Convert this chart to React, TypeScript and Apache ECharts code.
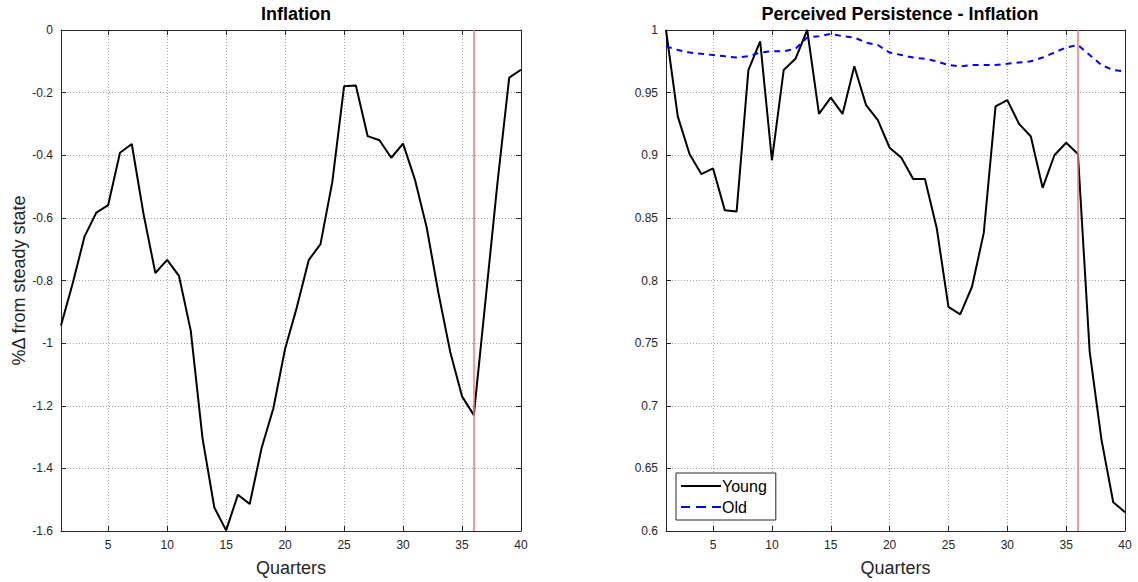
import React, { useEffect, useRef } from "react";
import * as echarts from "echarts";

const quarters = [1,2,3,4,5,6,7,8,9,10,11,12,13,14,15,16,17,18,19,20,21,22,23,24,25,26,27,28,29,30,31,32,33,34,35,36,37,38,39,40];
const xTicks = [5,10,15,20,25,30,35,40];

const inflation = [-0.944,-0.808,-0.659,-0.583,-0.559,-0.392,-0.364,-0.588,-0.776,-0.734,-0.785,-0.96,-1.304,-1.525,-1.598,-1.484,-1.514,-1.336,-1.209,-1.018,-0.885,-0.735,-0.684,-0.486,-0.18,-0.177,-0.339,-0.352,-0.408,-0.363,-0.477,-0.63,-0.84,-1.028,-1.17,-1.23,-0.86,-0.49,-0.152,-0.127];

const young = [1.0,0.931,0.901,0.885,0.8895,0.856,0.855,0.968,0.991,0.896,0.968,0.977,1.0,0.933,0.946,0.933,0.971,0.94,0.928,0.906,0.898,0.881,0.881,0.842,0.779,0.773,0.795,0.838,0.939,0.944,0.925,0.915,0.874,0.9,0.91,0.901,0.743,0.673,0.623,0.615];

const old = [0.987,0.984,0.982,0.981,0.98,0.979,0.978,0.979,0.982,0.983,0.983,0.985,0.994,0.995,0.997,0.995,0.994,0.99,0.988,0.982,0.98,0.978,0.977,0.975,0.972,0.971,0.972,0.972,0.972,0.973,0.974,0.975,0.978,0.982,0.986,0.988,0.98,0.972,0.968,0.967];

const eventQuarter = 36;
const titles = ["Inflation", "Perceived Persistence - Inflation"];
const xName = "Quarters";
const yNameLeft = "%\u0394 from steady state";
const legendNames = ["Young", "Old"];

const FONT = "'Liberation Sans', Arial, Helvetica, sans-serif";
const AX = "#262626";

const SOLID_ICON = "path://M0,0H40V2H0Z";
const DASH_ICON = "path://M0,0H9V2H0Z M15,0H25V2H15Z M31,0H40V2H31Z";

export default function App() {
  const ref = useRef<HTMLDivElement>(null);
  useEffect(() => {
    if (!ref.current) return;
    const chart = echarts.init(ref.current, null, { renderer: "svg" });

    const grids = [
      { left: 61, top: 30, width: 460, height: 503 },
      { left: 666, top: 30, width: 459, height: 503 },
    ];

    const mkX = (gi: number, pos: "bottom" | "top") => ({
      type: "value",
      gridIndex: gi,
      position: pos,
      min: 1,
      max: 40,
      name: pos === "bottom" ? xName : "",
      nameLocation: "middle",
      nameGap: 28,
      nameTextStyle: { fontFamily: FONT, fontSize: 18, color: AX },
      axisLine: { show: true, onZero: false, lineStyle: { color: AX, width: 1 } },
      axisTick: { show: true, inside: true, length: 5, customValues: xTicks, lineStyle: { color: AX } },
      axisLabel: {
        show: pos === "bottom",
        customValues: xTicks,
        margin: 8,
        fontFamily: FONT,
        fontSize: 12,
        color: AX,
      },
      splitLine: {
        show: pos === "bottom",
        lineStyle: { color: "#a0a0a0", type: [1, 2], width: 1 },
      },
    });

    const mkY = (gi: number, pos: "left" | "right", min: number, max: number, interval: number, name: string) => ({
      type: "value",
      gridIndex: gi,
      position: pos,
      min,
      max,
      interval,
      name: pos === "left" ? name : "",
      nameLocation: "middle",
      nameGap: 33,
      nameTextStyle: { fontFamily: FONT, fontSize: 18, color: AX },
      axisLine: { show: true, onZero: false, lineStyle: { color: AX, width: 1 } },
      axisTick: { show: true, inside: true, length: 5, lineStyle: { color: AX } },
      axisLabel: {
        show: pos === "left",
        margin: 8,
        fontFamily: FONT,
        fontSize: 12,
        color: AX,
      },
      splitLine: {
        show: pos === "left",
        lineStyle: { color: "#a0a0a0", type: [1, 2], width: 1 },
      },
    });

    const pairs = (arr: number[]) => quarters.map((q, i) => [q, arr[i]]);

    const redLine = {
      silent: true,
      symbol: ["none", "none"],
      label: { show: false },
      lineStyle: { color: "#f07878", width: 1.5, type: "solid" },
      data: [{ xAxis: eventQuarter }],
    };

    const option: any = {
      animation: false,
      backgroundColor: "#ffffff",
      title: [
        {
          text: titles[0],
          left: 291,
          top: 0,
          textAlign: "center",
          textStyle: { fontFamily: FONT, fontSize: 18, fontWeight: "bold", color: "#000" },
        },
        {
          text: titles[1],
          left: 895,
          top: 0,
          textAlign: "center",
          textStyle: { fontFamily: FONT, fontSize: 18, fontWeight: "bold", color: "#000" },
        },
      ],
      grid: grids,
      xAxis: [mkX(0, "bottom"), mkX(0, "top"), mkX(1, "bottom"), mkX(1, "top")],
      yAxis: [
        mkY(0, "left", -1.6, 0, 0.2, yNameLeft),
        mkY(0, "right", -1.6, 0, 0.2, ""),
        mkY(1, "left", 0.6, 1, 0.05, ""),
        mkY(1, "right", 0.6, 1, 0.05, ""),
      ],
      legend: {
        data: [
          { name: legendNames[0], icon: SOLID_ICON },
          { name: legendNames[1], icon: DASH_ICON },
        ],
        orient: "vertical",
        left: 676,
        top: 473,
        itemWidth: 40,
        itemHeight: 2,
        itemGap: 5,
        padding: [5, 9, 5, 5],
        backgroundColor: "#ffffff",
        borderColor: AX,
        borderWidth: 1,
        borderRadius: 0,
        textStyle: { fontFamily: FONT, fontSize: 16, color: "#000", padding: [0, 0, 0, -4] },
      },
      series: [
        {
          type: "line",
          name: "Inflation",
          xAxisIndex: 0,
          yAxisIndex: 0,
          data: pairs(inflation),
          symbol: "none",
          lineStyle: { color: "#000", width: 2 },
          itemStyle: { color: "#000" },
          markLine: redLine,
          z: 3,
        },
        {
          type: "line",
          name: legendNames[0],
          xAxisIndex: 2,
          yAxisIndex: 2,
          data: pairs(young),
          symbol: "none",
          lineStyle: { color: "#000", width: 2 },
          itemStyle: { color: "#000" },
          markLine: redLine,
          z: 3,
        },
        {
          type: "line",
          name: legendNames[1],
          xAxisIndex: 2,
          yAxisIndex: 2,
          data: pairs(old),
          symbol: "none",
          lineStyle: { color: "#0000ff", width: 2, type: [6, 5] },
          itemStyle: { color: "#0000ff" },
          z: 3,
        },
      ],
    };

    chart.setOption(option);
    return () => chart.dispose();
  }, []);

  return (
    <div
      ref={ref}
      style={{ position: "fixed", left: 0, top: 0, width: 1138, height: 582, background: "#fff" }}
    />
  );
}
